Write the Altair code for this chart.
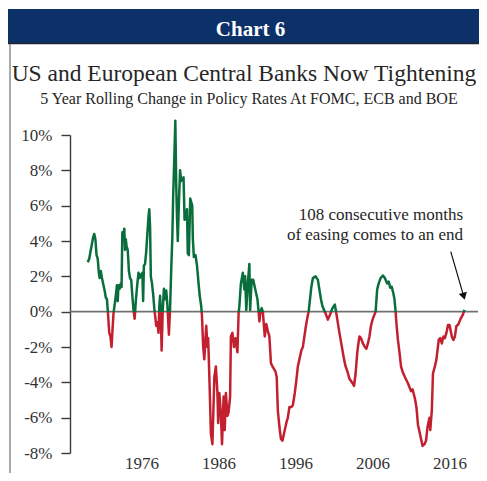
import altair as alt
import pandas as pd

# ---- data (5-year rolling change in policy rates, %) ----
years = [
    1969.0, 1969.2, 1969.45, 1969.7, 1969.85, 1970.0, 1970.15, 1970.3, 1970.45, 1970.55,
    1970.7, 1970.85, 1971.0, 1971.2, 1971.35, 1971.5, 1971.65, 1971.8, 1971.95, 1972.1,
    1972.2, 1972.35, 1972.5, 1972.65, 1972.8, 1972.9, 1973.0, 1973.15, 1973.3, 1973.4,
    1973.5, 1973.65, 1973.75, 1973.85, 1973.95, 1974.05, 1974.2, 1974.35, 1974.5, 1974.65,
    1974.8, 1974.95, 1975.1, 1975.25, 1975.45, 1975.6, 1975.75, 1975.85, 1976.0, 1976.1,
    1976.2, 1976.3, 1976.45, 1976.6, 1976.75, 1976.9, 1977.0, 1977.1, 1977.2, 1977.35,
    1977.5, 1977.65, 1977.75, 1977.9, 1978.05, 1978.2, 1978.3, 1978.4, 1978.5, 1978.6,
    1978.75, 1978.9, 1979.05, 1979.2, 1979.35, 1979.55, 1979.7, 1979.85, 1980.0, 1980.1,
    1980.25, 1980.38, 1980.5, 1980.6, 1980.7, 1980.85, 1981.0, 1981.15, 1981.3, 1981.45,
    1981.58, 1981.7, 1981.8, 1981.9, 1982.0, 1982.14, 1982.32, 1982.45, 1982.58, 1982.66,
    1982.79, 1983.0, 1983.2, 1983.4, 1983.55, 1983.75, 1983.85, 1984.0, 1984.15, 1984.3,
    1984.4, 1984.55, 1984.65, 1984.85, 1985.0, 1985.2, 1985.45, 1985.65, 1985.85, 1985.95,
    1986.1, 1986.3, 1986.45, 1986.65, 1986.8, 1986.95, 1987.15, 1987.3, 1987.5, 1987.6,
    1987.8, 1988.0, 1988.2, 1988.45, 1988.6, 1988.7, 1988.9, 1989.15, 1989.35, 1989.45,
    1989.6, 1989.8, 1990.0, 1990.1, 1990.3, 1990.5, 1990.7, 1990.9, 1991.05, 1991.2,
    1991.3, 1991.45, 1991.6, 1991.75, 1992.0, 1992.2, 1992.4, 1992.6, 1992.8, 1993.0,
    1993.4, 1993.55, 1993.7, 1993.9, 1994.1, 1994.3, 1994.55, 1994.8, 1995.0, 1995.2,
    1995.45, 1995.65, 1995.9, 1996.1, 1996.3, 1996.5, 1996.75, 1996.95, 1997.15, 1997.35,
    1997.55, 1997.7, 1997.85, 1998.05, 1998.25, 1998.6, 1998.9, 1999.1, 1999.3, 1999.5,
    1999.7, 1999.9, 2000.2, 2000.45, 2000.8, 2001.1, 2001.3, 2001.5, 2001.7, 2002.1,
    2002.3, 2002.5, 2002.75, 2003.0, 2003.4, 2003.6, 2003.8, 2004.0, 2004.1, 2004.3,
    2004.5, 2004.75, 2005.0, 2005.2, 2005.4, 2005.6, 2005.8, 2006.0, 2006.4, 2006.6,
    2006.8, 2007.05, 2007.35, 2007.6, 2007.9, 2008.1, 2008.3, 2008.5, 2008.7, 2008.85,
    2009.0, 2009.1, 2009.3, 2009.5, 2009.7, 2009.9, 2010.2, 2010.6, 2011.0, 2011.2,
    2011.5, 2011.7, 2011.9, 2012.1, 2012.3, 2012.5, 2012.75, 2012.95, 2013.15, 2013.4,
    2013.5, 2013.7, 2013.85, 2014.1, 2014.3, 2014.6, 2014.8, 2015.0, 2015.2, 2015.4,
    2015.6, 2015.8, 2016.0, 2016.3, 2016.5, 2016.7, 2016.9, 2017.1, 2017.3, 2017.5,
    2017.7, 2017.95,
]
values = [
    2.8, 3.0, 3.6, 4.2, 4.4, 4.1, 3.2, 3.0, 2.2, 1.9,
    2.3, 1.9, 1.6, 1.2, 0.8, 0.7, -0.2, -1.2, -1.4, -2.0,
    -1.2, -0.1, 0.4, 0.9, 1.5, 0.6, 1.5, 1.3, 1.6, 1.4,
    4.5, 4.3, 4.7, 3.5, 4.1, 3.7, 3.5, 2.3, 1.9, 1.8,
    0.9, 0.1, -0.4, 0.6, 1.6, 2.2, 1.9, 2.1, 2.0, 2.2,
    0.6, 2.6, 2.7, 3.4, 4.4, 5.4, 5.8, 4.8, 2.0, 1.6,
    1.0, 0.2, -0.2, -0.8, -0.6, -1.2, 0.3, 0.9, 0.0, -2.2,
    0.1, 1.3, 0.7, 1.2, 0.4, -1.3, 0.2, 2.4, 4.3, 6.5,
    8.7, 10.8, 7.2, 5.3, 4.0, 6.2, 8.0, 7.4, 7.5, 7.6,
    5.2, 5.3, 5.4, 5.8, 3.3, 3.2, 6.4, 6.2, 6.0, 4.1,
    3.1, 3.2, 2.6, 1.6, 0.9, 0.3, -0.3, -2.0, -2.7, -1.5,
    -0.8, -2.0, -1.5, -4.4, -6.9, -7.5, -3.7, -3.1, -4.6, -6.3,
    -4.6, -5.8, -7.5, -4.8, -6.7, -4.6, -5.9, -5.7, -4.8, -1.4,
    -1.2, -2.0, -1.5, -2.3, -0.1, 0.3, 1.6, 2.2, 1.25, 2.0,
    0.1, 1.6, 2.7, 0.1, 1.8, 1.8, 1.4, 1.0, 0.7, 0.0,
    -0.55, 0.0, 0.2, 0.0, -1.4, -0.7, -1.1, -1.4, -2.9, -3.1,
    -3.4, -3.7, -5.6, -6.5, -7.2, -7.3, -6.8, -6.3, -6.0, -5.4,
    -5.4, -5.3, -4.6, -3.9, -3.1, -2.7, -2.2, -2.0, -1.4, -0.8,
    -0.3, 0.0, 0.6, 1.4, 1.9, 2.0, 1.8, 1.25, 0.7, 0.3,
    0.1, -0.1, -0.45, -0.2, 0.2, 0.4, -0.1, -0.65, -1.2, -2.2,
    -2.7, -3.1, -3.4, -3.8, -4.05, -4.2, -3.5, -2.4, -2.0, -1.4,
    -1.5, -1.8, -2.0, -2.1, -1.8, -1.4, -0.8, -0.45, 0.0, 1.25,
    1.6, 1.9, 2.05, 1.9, 1.6, 1.7, 1.35, 1.4, 1.05, 0.7,
    0.0, -0.65, -1.6, -2.3, -3.1, -3.4, -3.7, -4.05, -4.5, -4.4,
    -4.9, -5.4, -6.4, -6.8, -7.2, -7.6, -7.5, -7.3, -6.5, -6.0,
    -6.7, -5.6, -3.5, -3.1, -2.7, -1.6, -1.5, -1.8, -1.4, -1.5,
    -1.2, -0.75, -0.75, -1.4, -1.6, -1.4, -0.8, -0.75, -0.55, -0.35,
    -0.2, 0.1,
]
x_ticks = [1976, 1986, 1996, 2006, 2016]
y_ticks = [-8, -6, -4, -2, 0, 2, 4, 6, 8, 10]

header_text = "Chart 6"
title_text = "US and European Central Banks Now Tightening"
subtitle_text = "5 Year Rolling Change in Policy Rates At FOMC, ECB and BOE"
note_lines = ["108 consecutive months", "of easing comes to an end"]
arrow_from = (2016.16, 3.4)
arrow_to = (2017.85, 0.87)

# ---- styling ----
GREEN = "#0a6e3c"
RED = "#c3202f"
NAVY = "#0c3068"
TEXT = "#333333"
FONT = "Liberation Serif"

df = pd.DataFrame({"year": years, "value": values})
vmax, vmin = max(values), min(values)
split = vmax / (vmax - vmin)

x_scale = alt.Scale(domain=[1966.7, 2019.7], nice=False, zero=False)
y_scale = alt.Scale(domain=[-8, 10], nice=False, zero=False)
x_axis = alt.Axis(values=x_ticks, format="d", domain=False, ticks=False, grid=False,
                  labelPadding=2, labelFontSize=17, labelOverlap=False,
                  labelFont=FONT, labelColor=TEXT, title=None)
y_axis = alt.Axis(values=y_ticks, labelExpr="datum.value + '%'", grid=False,
                  labelOverlap=False, domainColor="#3a3a3a", domainWidth=1.4,
                  tickColor="#3a3a3a", tickWidth=1.4, tickSize=9, labelPadding=9,
                  labelFontSize=17, labelFont=FONT, labelColor=TEXT, title=None)
one = pd.DataFrame({"k": [0]})

gradient = {
    "gradient": "linear", "x1": 0, "x2": 0, "y1": 0, "y2": 1,
    "stops": [
        {"offset": 0, "color": GREEN},
        {"offset": split, "color": GREEN},
        {"offset": split, "color": RED},
        {"offset": 1, "color": RED},
    ],
}

header = alt.Chart(one).mark_rect(color=NAVY).encode(
    x=alt.value(-62), x2=alt.value(409), y=alt.value(-126), y2=alt.value(-91)
)
header_edge = alt.Chart(one).mark_rule(color="#1e2530", strokeWidth=1.5).encode(
    x=alt.value(-62), x2=alt.value(409), y=alt.value(-91.5)
)
border = alt.Chart(one).mark_rule(color="#8c8c8c", strokeWidth=1.5).encode(
    x=alt.value(-60), y=alt.value(-91), y2=alt.value(338)
)
header_lbl = alt.Chart(one).mark_text(
    text=header_text, font=FONT, fontSize=21, fontWeight="bold", color="white",
    align="center", baseline="alphabetic"
).encode(x=alt.value(180.5), y=alt.value(-99))
title = alt.Chart(one).mark_text(
    text=title_text, font=FONT, fontSize=23.5, color="#262626",
    align="center", baseline="alphabetic"
).encode(x=alt.value(174), y=alt.value(-54))
subtitle = alt.Chart(one).mark_text(
    text=subtitle_text, font=FONT, fontSize=16, color="#262626",
    align="center", baseline="alphabetic"
).encode(x=alt.value(179), y=alt.value(-31))

line = alt.Chart(df).mark_line(
    stroke=gradient, strokeWidth=2.5, strokeJoin="round"
).encode(
    x=alt.X("year:Q", scale=x_scale, axis=x_axis),
    y=alt.Y("value:Q", scale=y_scale, axis=y_axis),
)

zero = alt.Chart(one).mark_rule(color="#707070", strokeWidth=1.6).encode(
    y=alt.Y(datum=0, scale=y_scale, axis=y_axis)
)

note = alt.Chart(one).mark_text(
    text=note_lines, lineHeight=20, font=FONT, fontSize=17, color="#262626",
    align="right", baseline="alphabetic"
).encode(x=alt.value(393), y=alt.value(85))

arrow_shaft = alt.Chart(one).mark_rule(color="#111111", strokeWidth=1.2).encode(
    x=alt.X(datum=arrow_from[0], scale=x_scale, axis=x_axis),
    y=alt.Y(datum=arrow_from[1], scale=y_scale, axis=y_axis),
    x2=alt.datum(arrow_to[0]), y2=alt.datum(arrow_to[1])
)
arrow_head = alt.Chart(one).mark_point(
    shape="triangle-down", filled=True, size=70, angle=344.5, color="#111111", opacity=1
).encode(
    x=alt.X(datum=arrow_to[0], scale=x_scale, axis=x_axis),
    y=alt.Y(datum=arrow_to[1], scale=y_scale, axis=y_axis),
)

chart = alt.layer(
    header, header_edge, border, header_lbl, title, subtitle,
    zero, line, note, arrow_shaft, arrow_head
).properties(
    width=408, height=318,
    padding={"left": 62, "top": 127, "right": 1, "bottom": 20},
    autosize=alt.AutoSizeParams(type="none"),
    background="white",
).configure_view(stroke=None).configure_axis(labelFont=FONT)

chart.save("out.html", embed_options={"renderer": "svg", "actions": False})
